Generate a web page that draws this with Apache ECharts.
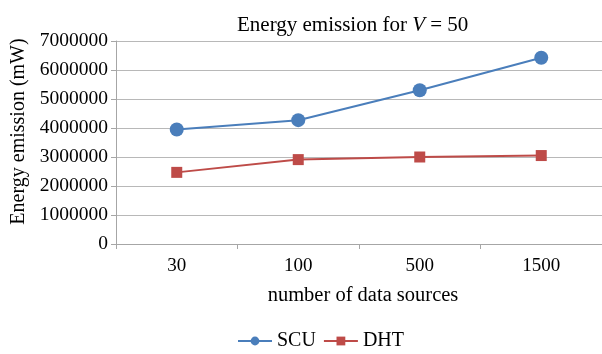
<!DOCTYPE html>
<html>
<head>
<meta charset="utf-8">
<script src="https://cdn.jsdelivr.net/npm/echarts@6/dist/echarts.min.js"></script>
<style>html,body{margin:0;padding:0;background:#fff}#c{width:602px;height:354px}</style>
</head>
<body>
<div id="c"></div>
<script>
const categories = ['30', '100', '500', '1500'];
const scuValues = [3950000, 4270000, 5300000, 6420000];
const dhtValues = [2470000, 2910000, 3000000, 3050000];
const yTicks = [0, 1000000, 2000000, 3000000, 4000000, 5000000, 6000000, 7000000];

const FONT = '"Liberation Serif", "Times New Roman", serif';
const chart = echarts.init(document.getElementById('c'), null, {renderer: 'canvas'});
chart.setOption({
  animation: false,
  backgroundColor: '#ffffff',
  textStyle: {fontFamily: FONT},
  title: {
    text: 'Energy emission for {i|V} = 50',
    left: 232, top: 10,
    textStyle: {
      fontFamily: FONT, fontSize: 21, fontWeight: 'normal', color: '#000',
      rich: {i: {fontFamily: FONT, fontSize: 21, fontStyle: 'italic', color: '#000'}}
    }
  },
  legend: {
    bottom: -2, left: 232,
    itemWidth: 34, itemHeight: 11, itemGap: 7,
    textStyle: {fontFamily: FONT, fontSize: 20, color: '#000'},
    data: ['SCU', 'DHT']
  },
  grid: {left: 116, right: -9, top: 41, bottom: 110, containLabel: false},
  xAxis: {
    type: 'category', data: categories, boundaryGap: true,
    name: 'number of data sources', nameLocation: 'middle', nameGap: 41,
    nameTextStyle: {fontFamily: FONT, fontSize: 20.5, color: '#000', padding: [0, 0, 0, 8]},
    axisLine: {lineStyle: {color: '#a6a6a6', width: 1}},
    axisTick: {show: true, alignWithLabel: false, length: 5, lineStyle: {color: '#a6a6a6'}},
    axisLabel: {fontFamily: FONT, fontSize: 19, color: '#000', margin: 13}
  },
  yAxis: {
    type: 'value', min: yTicks[0], max: yTicks[yTicks.length - 1], interval: 1000000,
    name: 'Energy emission (mW)', nameLocation: 'middle', nameGap: 84,
    nameTextStyle: {fontFamily: FONT, fontSize: 20, color: '#000', padding: [0, 0, 0, 22]},
    axisLine: {show: true, lineStyle: {color: '#a6a6a6', width: 1}},
    axisTick: {show: true, length: 5, lineStyle: {color: '#a6a6a6'}},
    axisLabel: {fontFamily: FONT, fontSize: 19.5, color: '#000', margin: 8, formatter: v => String(v)},
    splitLine: {lineStyle: {color: '#b8b8b8', width: 1}}
  },
  series: [
    {
      name: 'SCU', type: 'line', data: scuValues,
      symbol: 'circle', symbolSize: 14,
      itemStyle: {color: '#4a7ebb'},
      lineStyle: {color: '#4a7ebb', width: 2}
    },
    {
      name: 'DHT', type: 'line', data: dhtValues,
      symbol: 'rect', symbolSize: 11,
      itemStyle: {color: '#be4b48'},
      lineStyle: {color: '#be4b48', width: 2}
    }
  ]
});
</script>
</body>
</html>
